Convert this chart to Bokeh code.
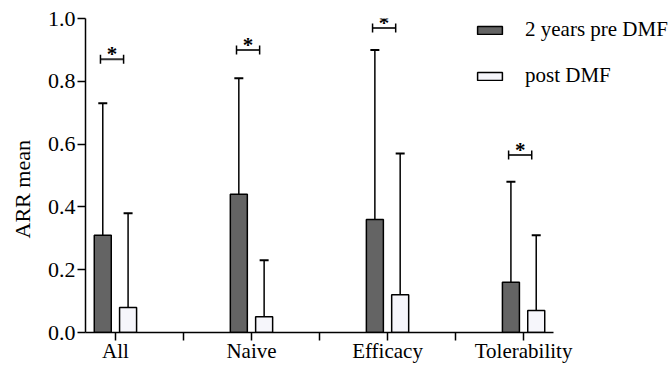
from bokeh.plotting import figure
from bokeh.models import (ColumnDataSource, Whisker, TeeHead, FixedTicker, Legend, LegendItem, Range1d)
from bokeh.core.properties import value
from bokeh.embed import file_html
from bokeh.resources import INLINE

categories = ["All", "Naive", "Efficacy", "Tolerability"]
pre_mean = [0.31, 0.44, 0.36, 0.16]
pre_sd = [0.42, 0.37, 0.54, 0.32]
post_mean = [0.08, 0.05, 0.12, 0.07]
post_sd = [0.30, 0.18, 0.45, 0.24]
sig_y = [0.87, 0.90, 0.97, 0.565]
series_names = ["2 years pre DMF", "post DMF"]
y_ticks = [0.0, 0.2, 0.4, 0.6, 0.8, 1.0]
y_label = "ARR mean"

FONT = "Liberation Serif"
DARK = "#646464"
LIGHT = "#f6f6fb"
OFF = 0.093
BW = 0.125
PAD = 0.22

pos = list(range(len(categories)))
ax_lo, ax_hi = -PAD, len(categories) - 1 + PAD
px_per_unit = 468 / (ax_hi - ax_lo)
x_end = ax_lo + 583 / px_per_unit

p = figure(width=668, height=365, output_backend="svg", toolbar_location=None,
           x_range=Range1d(ax_lo, x_end), y_range=Range1d(0, 1.0),
           min_border_left=85, min_border_right=0, min_border_top=18, min_border_bottom=33)
p.outline_line_color = None
p.grid.visible = False
p.background_fill_color = "white"
p.border_fill_color = "white"

src_pre = ColumnDataSource(dict(x=[c - OFF for c in pos], top=pre_mean,
                                up=[m + s for m, s in zip(pre_mean, pre_sd)]))
src_post = ColumnDataSource(dict(x=[c + OFF for c in pos], top=post_mean,
                                 up=[m + s for m, s in zip(post_mean, post_sd)]))

r_pre = p.vbar(x="x", top="top", width=BW, source=src_pre, fill_color=DARK,
               line_color="black", line_width=1.5)
r_post = p.vbar(x="x", top="top", width=BW, source=src_post, fill_color=LIGHT,
                line_color="black", line_width=1.5)

for src in (src_pre, src_post):
    w = Whisker(base="x", lower="top", upper="up", source=src, line_width=1.5, line_color="black",
                upper_head=TeeHead(size=9, line_width=2, line_color="black"), lower_head=None)
    p.add_layout(w)

src_sig = ColumnDataSource(dict(y=sig_y, xc=[c - 0.025 for c in pos],
                                lo=[c - 0.025 - 0.085 for c in pos],
                                hi=[c - 0.025 + 0.085 for c in pos],
                                star=["*"] * len(pos)))
br = Whisker(base="y", lower="lo", upper="hi", dimension="width", source=src_sig,
             line_width=2, line_color="#333333",
             upper_head=TeeHead(size=9, line_width=1.5, line_color="black"),
             lower_head=TeeHead(size=9, line_width=1.5, line_color="black"))
p.add_layout(br)
p.text(x="xc", y="y", text="star", source=src_sig, text_font=value(FONT), text_font_size="21px",
       text_font_style="bold", text_align="center", text_baseline="alphabetic", y_offset=-5,
       text_color="black")

# axes
xt = [i * 0.5 for i in range(2 * len(categories) - 1)]
p.xaxis.ticker = FixedTicker(ticks=xt)
p.xaxis.major_label_overrides = {t: (categories[int(t)] if t == int(t) else "") for t in xt}
p.xaxis.bounds = (ax_lo, ax_hi)
p.yaxis.ticker = FixedTicker(ticks=y_ticks)
p.yaxis.major_label_overrides = {t: f"{t:.1f}" for t in y_ticks}
for ax in (p.xaxis, p.yaxis):
    ax.axis_line_width = 1.5
    ax.axis_line_color = "black"
    ax.major_tick_line_width = 1.5
    ax.major_tick_line_color = "black"
    ax.major_tick_out = 8
    ax.major_tick_in = 0
    ax.minor_tick_line_color = None
    ax.major_label_text_font = FONT
    ax.major_label_text_color = "black"
p.xaxis.major_label_text_font_size = "21px"
p.xaxis.major_label_standoff = -2
p.yaxis.major_label_text_font_size = "22px"
p.yaxis.major_label_standoff = 2
# trailing no-break spaces nudge the centred, rotated label down a little
p.yaxis.axis_label = y_label + "\u00a0" * 5
p.yaxis.axis_label_text_font = FONT
p.yaxis.axis_label_text_font_size = "22px"
p.yaxis.axis_label_text_font_style = "normal"
p.yaxis.axis_label_text_color = "black"
p.yaxis.axis_label_standoff = 10

legend = Legend(items=[LegendItem(label=series_names[0], renderers=[r_pre]),
                       LegendItem(label=series_names[1], renderers=[r_post])],
                location=(389, 244), orientation="vertical",
                label_text_font=FONT, label_text_font_size="21px", label_text_color="black",
                glyph_width=31, glyph_height=10, label_standoff=20, spacing=21,
                padding=0, margin=0, border_line_color=None, background_fill_alpha=0)
p.add_layout(legend, "center")

open("out.html", "w").write(file_html(p, INLINE))
